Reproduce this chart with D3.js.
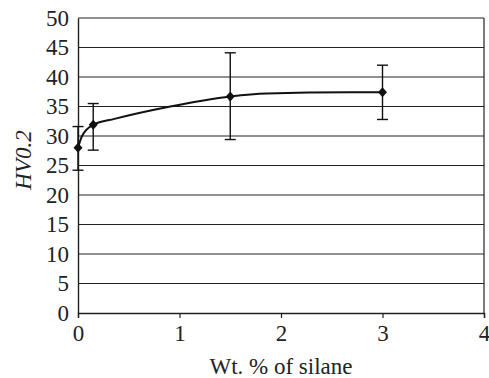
<!DOCTYPE html>
<html>
<head>
<meta charset="utf-8">
<script src="https://cdn.jsdelivr.net/npm/d3@7"></script>
<style>
  html, body { margin: 0; padding: 0; background: #fff; }
  svg { display: block; }
  svg text { font-family: "Liberation Serif", "Times New Roman", serif; }
</style>
</head>
<body>
<div id="chart"></div>
<script>
// measured points (wt.% silane, HV0.2) with error bounds
const silane = [0, 0.15, 1.5, 3];
const hardness = [28, 31.9, 36.7, 37.4];
const errLow = [24.2, 27.6, 29.4, 32.8];
const errHigh = [31.6, 35.5, 44.1, 42.0];

// smoothed trend line as drawn in the figure
const trendX = [0, 0.04, 0.15, 0.36, 0.91, 1.5, 1.86, 2.68, 3];
const trendY = [28, 30.0, 31.9, 32.9, 35.0, 36.7, 37.2, 37.4, 37.4];

const xTicks = [0, 1, 2, 3, 4];
const yTicks = [0, 5, 10, 15, 20, 25, 30, 35, 40, 45, 50];

const width = 489, height = 378;
const margin = { top: 18, right: 5, bottom: 65, left: 78 };
const FONT = "'Liberation Serif', 'Times New Roman', serif";

const svg = d3.select("#chart").append("svg")
  .attr("width", width).attr("height", height);

const x = d3.scaleLinear().domain([0, 4]).range([margin.left, width - margin.right]);
const y = d3.scaleLinear().domain([0, 50]).range([height - margin.bottom, margin.top]);

// horizontal gridlines
svg.append("g")
  .selectAll("line")
  .data(yTicks.filter((d) => d > 0))
  .enter().append("line")
  .attr("x1", x(0)).attr("x2", x(4))
  .attr("y1", (d) => y(d)).attr("y2", (d) => y(d))
  .attr("stroke", "#222").attr("stroke-width", 1.2);

// right border
svg.append("line")
  .attr("x1", x(4)).attr("x2", x(4))
  .attr("y1", y(50)).attr("y2", y(0))
  .attr("stroke", "#222").attr("stroke-width", 1.2);

// axes
const xAxis = svg.append("g")
  .attr("transform", `translate(0,${y(0)})`)
  .call(d3.axisBottom(x).tickValues(xTicks).tickSize(5).tickPadding(5).tickFormat(d3.format("d")));
const yAxis = svg.append("g")
  .attr("transform", `translate(${x(0)},0)`)
  .call(d3.axisLeft(y).tickValues(yTicks).tickSize(0).tickPadding(9).tickFormat(d3.format("d")));

[xAxis, yAxis].forEach((a) => {
  a.attr("font-family", FONT).attr("font-size", 23);
  a.select(".domain").attr("stroke", "#222").attr("stroke-width", 1.4);
  a.selectAll(".tick line").attr("stroke", "#222").attr("stroke-width", 1.2);
  a.selectAll("text").attr("fill", "#222");
});
xAxis.selectAll("text").attr("dy", "0.8em");

// trend line
const line = d3.line()
  .x((d) => x(d[0])).y((d) => y(d[1]))
  .curve(d3.curveMonotoneX);
svg.append("path")
  .datum(trendX.map((v, i) => [v, trendY[i]]))
  .attr("d", line)
  .attr("fill", "none").attr("stroke", "#111").attr("stroke-width", 2);

// error bars
const pts = silane.map((v, i) => ({ x: v, y: hardness[i], lo: errLow[i], hi: errHigh[i] }));
const eb = svg.append("g").attr("stroke", "#111").attr("stroke-width", 1.4);
pts.forEach((p) => {
  eb.append("line").attr("x1", x(p.x)).attr("x2", x(p.x)).attr("y1", y(p.lo)).attr("y2", y(p.hi));
  eb.append("line").attr("x1", x(p.x) - 5.5).attr("x2", x(p.x) + 5.5).attr("y1", y(p.lo)).attr("y2", y(p.lo));
  eb.append("line").attr("x1", x(p.x) - 5.5).attr("x2", x(p.x) + 5.5).attr("y1", y(p.hi)).attr("y2", y(p.hi));
});

// diamond markers
svg.append("g").selectAll("path")
  .data(pts)
  .enter().append("path")
  .attr("transform", (p) => `translate(${x(p.x)},${y(p.y)})`)
  .attr("d", "M0,-5L4.5,0L0,5L-4.5,0Z")
  .attr("fill", "#111");

// axis titles
svg.append("text")
  .attr("x", x(2)).attr("y", 374)
  .attr("text-anchor", "middle")
  .attr("font-family", FONT).attr("font-size", 23)
  .attr("fill", "#222")
  .text("Wt. % of silane");
svg.append("text")
  .attr("transform", "translate(31,160) rotate(-90)")
  .attr("text-anchor", "middle")
  .attr("font-family", FONT).attr("font-size", 23).attr("font-style", "italic")
  .attr("fill", "#222")
  .text("HV0.2");
</script>
</body>
</html>
